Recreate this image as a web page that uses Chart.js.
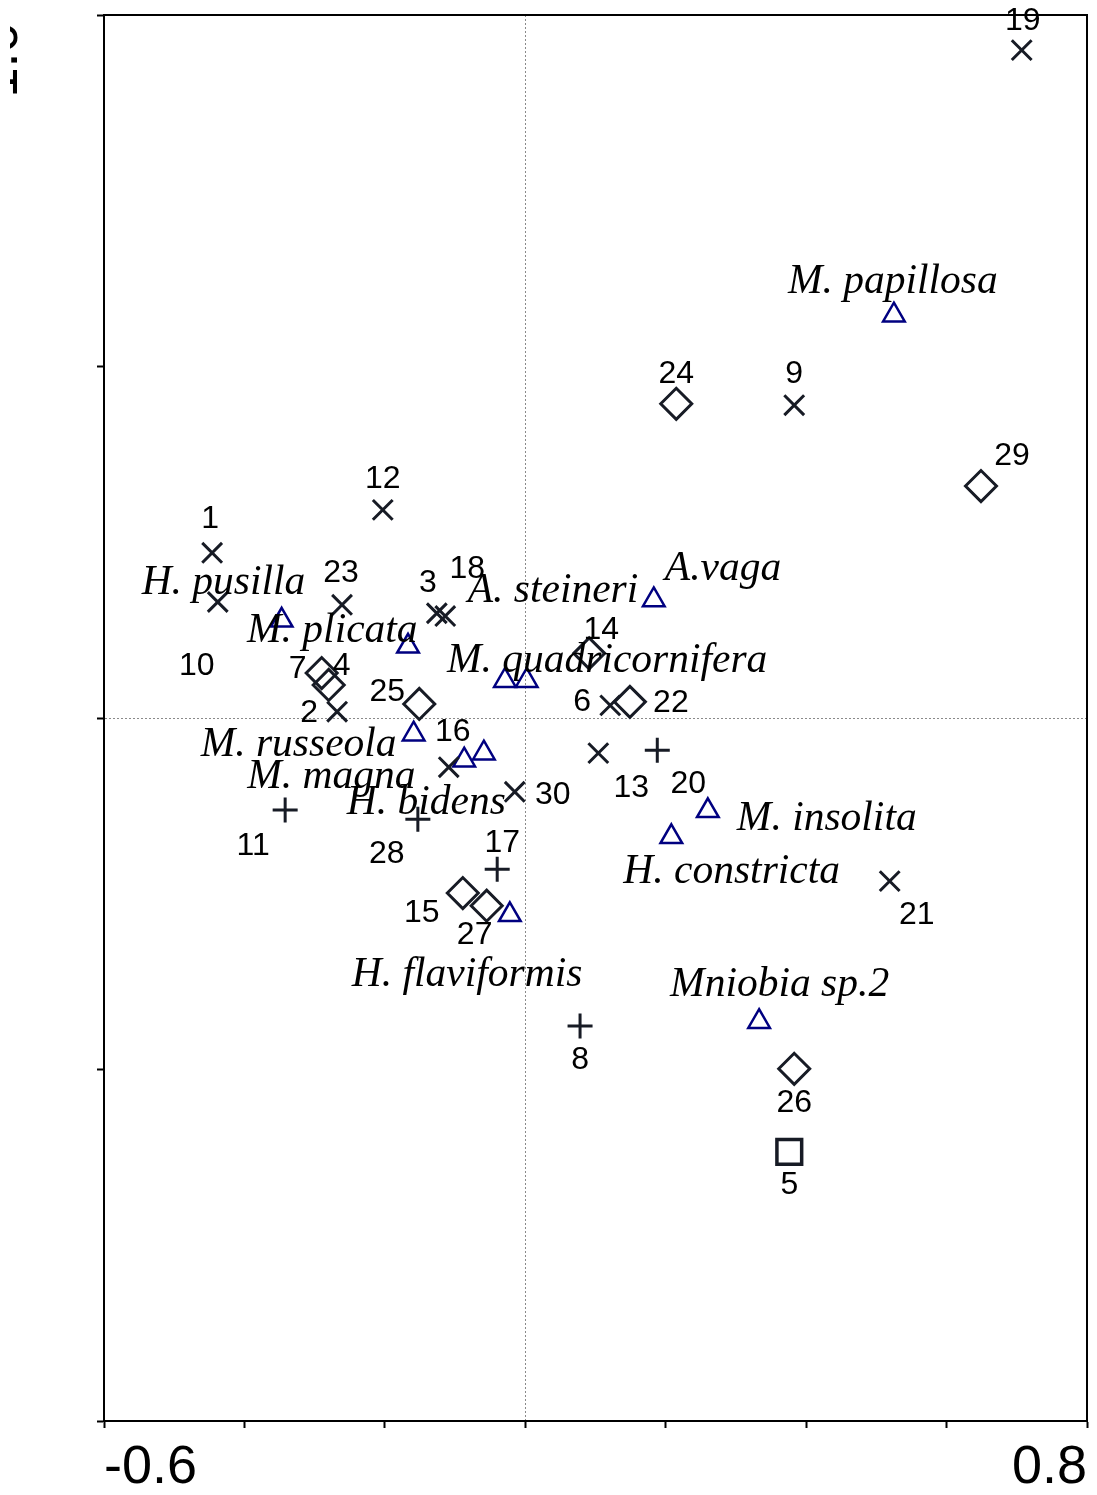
<!DOCTYPE html>
<html>
<head>
<meta charset="utf-8">
<script src="https://cdn.jsdelivr.net/npm/chart.js@4.4.0/dist/chart.umd.min.js"></script>
<style>
  html, body { margin: 0; padding: 0; background: #fff; }
  #wrap { width: 1097px; height: 1495px; }
</style>
</head>
<body>
<div id="wrap"><canvas id="myChart" width="1097" height="1495"></canvas></div>
<script>
// sites 1..30 (ordination scores)
const siteIds = [1, 2, 3, 4, 5, 6, 7, 8, 9, 10, 11, 12, 13, 14, 15, 16, 17, 18, 19, 20, 21, 22, 23, 24, 25, 26, 27, 28, 29, 30];
const siteX = [-0.446, -0.268, -0.126, -0.280, 0.376, 0.121, -0.290, 0.078, 0.383, -0.438, -0.342, -0.203, 0.104, 0.091, -0.089,
               -0.109, -0.040, -0.114, 0.707, 0.188, 0.519, 0.149, -0.261, 0.215, -0.151, 0.383, -0.055, -0.153, 0.649, -0.015];
const siteY = [0.235, 0.009, 0.149, 0.047, -0.617, 0.018, 0.064, -0.438, 0.445, 0.165, -0.131, 0.296, -0.050, 0.092, -0.249,
               -0.070, -0.215, 0.145, 0.950, -0.046, -0.232, 0.023, 0.161, 0.447, 0.020, -0.499, -0.267, -0.144, 0.330, -0.105];
// x = cross, p = plus, d = diamond, s = square
const siteGroup = ['x', 'x', 'x', 'd', 's', 'x', 'd', 'p', 'x', 'x', 'p', 'x', 'x', 'd', 'd',
                   'x', 'p', 'x', 'x', 'p', 'x', 'd', 'x', 'd', 'd', 'd', 'd', 'p', 'd', 'x'];

// species scores
const speciesNames = ['M. papillosa', 'A.vaga', 'A. steineri', 'M. quadricornifera', 'H. pusilla', 'M. plicata', 'M. russeola',
                      'M. magna', 'H. bidens', 'H. flaviformis', 'M. insolita', 'H. constricta', 'Mniobia sp.2'];
const speciesX = [0.525, 0.183, 0.002, -0.029, -0.347, -0.167, -0.159, -0.087, -0.059, -0.022, 0.260, 0.208, 0.333];
const speciesY = [0.573, 0.168, 0.053, 0.053, 0.139, 0.102, -0.023, -0.060, -0.050, -0.280, -0.132, -0.169, -0.432];

const xTickLabels = ['-0.6', '0.8'];
const yTickLabels = ['1.0'];

// label placement (pixels from the marker)
const siteLabelDx = [-2, -28, -9, 13, 0, -28, -24, 0, 0, -21, -32, 0, 33, 12, -41, 4, 5, 22, 1, 31, 27, 41, -1, 0, -32, 0, -12, -31, 31, 38];
const siteLabelDy = [-36, -1, -33, -21, 31, -6, -7, 32, -34, 61, 33, -33, 32, -26, 17, -38, -29, -50, -32, 31, 31, -1, -34, -32, -14, 32, 27, 32, -33, 1];
const speciesLabelDx = [-106, 11, -59, -58, -140, -161, -213, -217, -137, -158, 29, -48, -89];
const speciesLabelDy = [-22, -20, -79, -9, -26, -4, 22, 28, 61, 71, 19, 46, -26];

const ink = '#171b25';
const navy = '#000080';

function groupPoints(g) {
    return siteIds.map((id, i) => ({ x: siteX[i], y: siteY[i], g: siteGroup[i] }))
        .filter(p => p.g === g)
        .map(p => ({ x: p.x, y: p.y }));
}

const datasets = [
    { label: 'sites x', data: groupPoints('x'), pointStyle: 'crossRot', pointRadius: 14, pointBorderWidth: 3, pointBorderColor: ink },
    { label: 'sites +', data: groupPoints('p'), pointStyle: 'cross', pointRadius: 12.5, pointBorderWidth: 3, pointBorderColor: ink },
    { label: 'sites diamond', data: groupPoints('d'), pointStyle: 'rectRot', pointRadius: 15.5, pointBorderWidth: 3, pointBorderColor: ink, pointBackgroundColor: 'rgba(0,0,0,0)' },
    { label: 'sites square', data: groupPoints('s'), pointStyle: 'rect', pointRadius: 17.5, pointBorderWidth: 3.5, pointBorderColor: ink, pointBackgroundColor: 'rgba(0,0,0,0)' },
    { label: 'species', data: speciesX.map((x, i) => ({ x: x, y: speciesY[i] })), pointStyle: 'triangle', pointRadius: 12.5, pointBorderWidth: 2.5, pointBorderColor: navy, pointBackgroundColor: 'rgba(0,0,0,0)' }
];

// frame on top/right, text labels
const labelsPlugin = {
    id: 'labels',
    beforeDatasetsDraw(chart) {
        const { ctx, chartArea: a } = chart;
        ctx.save();
        ctx.strokeStyle = '#000';
        ctx.lineWidth = 2;
        ctx.beginPath();
        ctx.moveTo(a.left, a.top);
        ctx.lineTo(a.right, a.top);
        ctx.lineTo(a.right, a.bottom);
        ctx.stroke();
        ctx.restore();
    },
    afterDatasetsDraw(chart) {
        const { ctx } = chart;
        const xs = chart.scales.x, ys = chart.scales.y;
        ctx.save();
        ctx.fillStyle = '#000';
        ctx.font = '32px "Liberation Sans", Arial, sans-serif';
        ctx.textAlign = 'center';
        ctx.textBaseline = 'alphabetic';
        siteIds.forEach((id, i) => {
            const px = xs.getPixelForValue(siteX[i]) + siteLabelDx[i];
            const py = ys.getPixelForValue(siteY[i]) + siteLabelDy[i] + 11.5;
            ctx.fillText(String(id), px, py);
        });
        ctx.font = 'italic 41.5px "Liberation Serif", "Times New Roman", serif';
        ctx.textAlign = 'left';
        speciesNames.forEach((name, i) => {
            const px = xs.getPixelForValue(speciesX[i]) + speciesLabelDx[i];
            const py = ys.getPixelForValue(speciesY[i]) + speciesLabelDy[i];
            ctx.fillText(name, px, py);
        });
        // y tick label, mostly cut off at the left edge
        ctx.beginPath();
        ctx.rect(10, 0, 20, 130);
        ctx.clip();
        ctx.translate(17, 60);
        ctx.rotate(-Math.PI / 2);
        ctx.font = '54px "Liberation Sans", Arial, sans-serif';
        ctx.textAlign = 'center';
        ctx.fillText(yTickLabels[0], 0, 0);
        ctx.restore();
    }
};

const zeroColor = c => (c.tick && Math.abs(c.tick.value) < 1e-9) ? '#8a8a8a' : 'rgba(0,0,0,0)';

const ctx = document.getElementById('myChart');
const chart = new Chart(ctx, {
    type: 'scatter',
    data: { datasets: datasets },
    options: {
        responsive: false,
        animation: false,
        layout: { autoPadding: false, padding: { top: 15, right: 10, left: 0, bottom: 0 } },
        plugins: {
            legend: { display: false },
            tooltip: { enabled: false }
        },
        scales: {
            x: {
                type: 'linear',
                min: -0.6,
                max: 0.8,
                ticks: {
                    stepSize: 0.2,
                    autoSkip: false,
                    maxRotation: 0,
                    align: 'inner',
                    padding: 8,
                    color: '#000',
                    font: { family: '"Liberation Sans", Arial, sans-serif', size: 54 },
                    callback: (v, i, ticks) => i === 0 ? xTickLabels[0] : (i === ticks.length - 1 ? xTickLabels[1] : '')
                },
                grid: { color: zeroColor, lineWidth: 1, tickColor: '#000', tickLength: 7, tickWidth: 2 },
                border: { display: true, color: '#000', width: 2, dash: [2, 2] },
                afterFit: s => { s.height = 74; }
            },
            y: {
                type: 'linear',
                min: -1,
                max: 1,
                ticks: { stepSize: 0.5, display: false },
                grid: { color: zeroColor, lineWidth: 1, tickColor: '#000', tickLength: 7, tickWidth: 2 },
                border: { display: true, color: '#000', width: 2, dash: [2, 2] },
                afterFit: s => { s.width = 104; }
            }
        }
    },
    plugins: [labelsPlugin]
});
</script>
</body>
</html>
